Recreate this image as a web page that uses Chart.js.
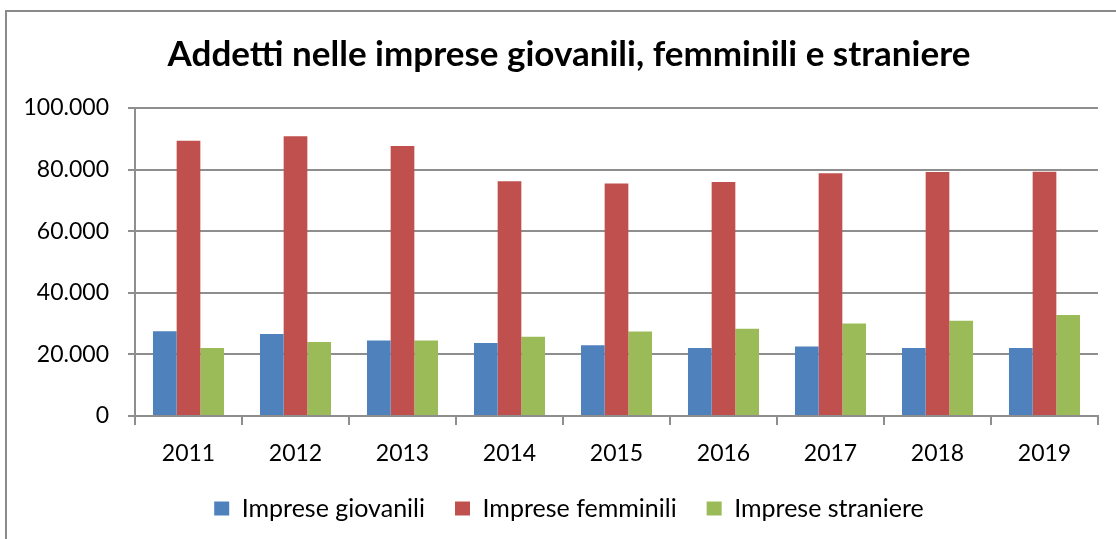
<!DOCTYPE html>
<html lang="it">
<head>
  <meta charset="UTF-8" />
  <title>Addetti nelle imprese</title>
  <script src="https://cdn.jsdelivr.net/npm/chart.js"></script>
  <style>
    html, body { margin: 0; padding: 0; background: #fff; overflow: hidden; }
    #frame {
      position: absolute; left: 5px; top: 10px; width: 1200px; height: 700px;
      border-left: 2px solid #8a8a8a; border-top: 2px solid #8a8a8a;
    }
    #wrap { position: absolute; left: 0; top: 0; width: 1116px; height: 539px; }
  </style>
</head>
<body>
  <div id="frame"></div>
  <div id="wrap"><canvas id="chart" width="1116" height="539"></canvas></div>

<script>
// data
const years = ['2011', '2012', '2013', '2014', '2015', '2016', '2017', '2018', '2019'];
const giovanili = [27500, 26600, 24500, 23700, 23000, 22100, 22600, 22100, 22100];
const femminili = [89400, 90800, 87700, 76200, 75500, 76000, 78800, 79200, 79300];
const straniere = [22100, 24000, 24500, 25700, 27400, 28300, 30000, 30900, 32800];

const gridGray = '#8e8e8e';

function fmt(v) {
  return String(v).replace(/\B(?=(\d{3})+(?!\d))/g, '.');
}

const ctx = document.getElementById('chart').getContext('2d');
new Chart(ctx, {
  type: 'bar',
  data: {
    labels: years,
    datasets: [
      { label: 'Imprese giovanili', data: giovanili, backgroundColor: '#4F81BD' },
      { label: 'Imprese femminili', data: femminili, backgroundColor: '#C0504D' },
      { label: 'Imprese straniere', data: straniere, backgroundColor: '#9BBB59' }
    ]
  },
  options: {
    responsive: false,
    animation: false,
    datasets: { bar: { categoryPercentage: 0.664, barPercentage: 1.0 } },
    layout: { padding: { left: 22, right: 0, top: 0, bottom: 8 } },
    plugins: {
      tooltip: { enabled: false },
      title: {
        display: true,
        text: 'Addetti nelle imprese giovanili, femminili e straniere',
        color: '#000',
        font: { family: 'Lato', size: 35, weight: 'bold' },
        padding: { top: 34, bottom: 32 }
      },
      legend: {
        position: 'bottom',
        labels: {
          color: '#000',
          font: { family: 'Lato', size: 25 },
          boxWidth: 15,
          boxHeight: 14,
          padding: 30
        }
      }
    },
    scales: {
      x: {
        grid: { drawOnChartArea: false, drawTicks: true, tickLength: 9, color: gridGray, lineWidth: 2 },
        border: { color: gridGray, width: 2 },
        ticks: { color: '#000', font: { family: 'Lato', size: 23, lineHeight: 1.0 }, padding: 17 },
        afterFit: s => { s.height = 50; }
      },
      y: {
        min: 0,
        max: 100000,
        ticks: {
          stepSize: 20000,
          color: '#000',
          font: { family: 'Lato', size: 23 },
          padding: 19,
          callback: v => fmt(v)
        },
        grid: { color: gridGray, lineWidth: 2, tickLength: 7 },
        border: { color: gridGray, width: 2 },
        afterFit: s => { s.width = 113; }
      },
      // empty right-hand box so the title and legend sit where they do in the original
      pad: {
        type: 'linear',
        position: 'right',
        grid: { display: false },
        border: { display: false },
        ticks: { display: false },
        afterFit: s => { s.width = 18; }
      }
    }
  }
});
</script>
</body>
</html>
